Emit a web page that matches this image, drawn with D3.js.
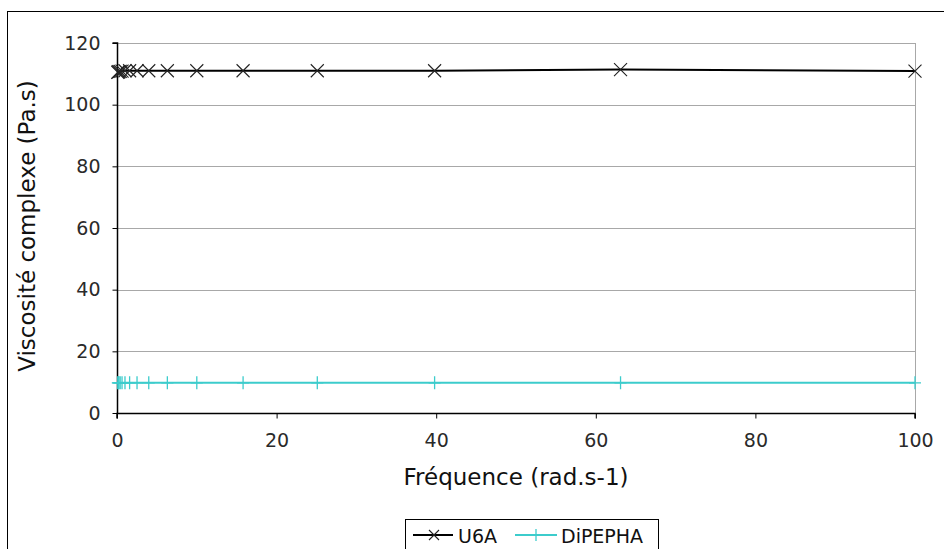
<!DOCTYPE html>
<html>
<head>
<meta charset="utf-8">
<script src="https://cdn.jsdelivr.net/npm/d3@7"></script>
<style>
html,body{margin:0;padding:0;background:#fff;}
svg{display:block;font-family:"DejaVu Sans",Verdana,sans-serif;}
</style>
</head>
<body>
<svg id="chart" width="944" height="549"></svg>
<script>
// Data
const frequencies = [0.1, 0.158, 0.251, 0.398, 0.631, 1, 1.58, 2.51, 3.98, 6.31, 10, 15.8, 25.1, 39.8, 63.1, 100];
const u6a = [110.5, 110.6, 110.7, 110.8, 110.9, 111, 111, 111, 111, 111, 111, 111, 111, 111, 111.4, 110.9];
const dipepha = [9.8, 9.8, 9.8, 9.8, 9.8, 9.8, 9.8, 9.8, 9.8, 9.8, 9.8, 9.8, 9.8, 9.8, 9.8, 9.8];
const xTicks = [0, 20, 40, 60, 80, 100];
const yTicks = [0, 20, 40, 60, 80, 100, 120];
const seriesNames = ["U6A", "DiPEPHA"];
const xTitle = "Fréquence (rad.s-1)";
const yTitle = "Viscosité complexe (Pa.s)";

const svg = d3.select("#chart");
const L = 117, R = 915, T = 43, B = 413;
const x = d3.scaleLinear().domain([0, 100]).range([L, R]);
const y = d3.scaleLinear().domain([0, 120]).range([B, T]);

// outer chart border
svg.append("rect").attr("x", 7.5).attr("y", 11.5).attr("width", 1000).attr("height", 1000)
  .attr("fill", "none").attr("stroke", "#000").attr("stroke-width", 1);

// gridlines
svg.append("g").selectAll("line").data(yTicks.filter(d => d > 0)).join("line")
  .attr("x1", L).attr("x2", R)
  .attr("y1", d => Math.round(y(d)) + 0.5).attr("y2", d => Math.round(y(d)) + 0.5)
  .attr("stroke", "#a8a8a8").attr("stroke-width", 1);
// right border of plot area
svg.append("line").attr("x1", R + 0.5).attr("x2", R + 0.5).attr("y1", T).attr("y2", B)
  .attr("stroke", "#a8a8a8");

// axes
const yAxis = d3.axisLeft(y).tickValues(yTicks).tickSize(5).tickPadding(12).tickFormat(d3.format("d"));
const xAxis = d3.axisBottom(x).tickValues(xTicks).tickSize(5).tickPadding(15).tickFormat(d3.format("d"));
const gy = svg.append("g").attr("transform", `translate(${L + 0.5},0)`).call(yAxis);
const gx = svg.append("g").attr("transform", `translate(0,${B + 0.5})`).call(xAxis);
[gx, gy].forEach(g => {
  g.select(".domain").attr("stroke", "#000").attr("stroke-width", 1.5);
  g.selectAll(".tick line").attr("stroke", "#000");
  g.selectAll("text").attr("font-size", 19).attr("font-family", "DejaVu Sans").attr("fill", "#2a2a2a");
});
gy.select(".domain").attr("d", `M-5,${T}H0V${B}`);
gx.select(".domain").attr("d", `M${L},0V5V0H${R}V5`);

// series
const pts1 = frequencies.map((f, i) => [f, u6a[i]]);
const pts2 = frequencies.map((f, i) => [f, dipepha[i]]);
const line = d3.line().x(d => x(d[0])).y(d => y(d[1]));

svg.append("path").datum(pts2).attr("d", line).attr("fill", "none")
  .attr("stroke", "#3ccccc").attr("stroke-width", 2);
svg.append("g").selectAll("path").data(pts2).join("path")
  .attr("d", d => `M${x(d[0]) - 6},${y(d[1])}H${x(d[0]) + 6}M${x(d[0])},${y(d[1]) - 6.5}V${y(d[1]) + 6.5}`)
  .attr("stroke", "#3ccccc").attr("stroke-width", 1.3).attr("fill", "none");

svg.append("path").datum(pts1).attr("d", line).attr("fill", "none")
  .attr("stroke", "#000").attr("stroke-width", 2);
svg.append("g").selectAll("path").data(pts1).join("path")
  .attr("d", d => `M${x(d[0]) - 6.5},${y(d[1]) - 6.5}L${x(d[0]) + 6.5},${y(d[1]) + 6.5}M${x(d[0]) - 6.5},${y(d[1]) + 6.5}L${x(d[0]) + 6.5},${y(d[1]) - 6.5}`)
  .attr("stroke", "#222").attr("stroke-width", 1.1).attr("fill", "none");

// axis titles
svg.append("text").attr("x", (L + R) / 2).attr("y", 485).attr("text-anchor", "middle")
  .attr("font-size", 23).attr("fill", "#111").text(xTitle);
svg.append("text").attr("transform", `translate(35,${(T + B) / 2 - 2}) rotate(-90)`)
  .attr("text-anchor", "middle").attr("font-size", 23).attr("fill", "#111").text(yTitle);

// legend
const lg = svg.append("g");
lg.append("rect").attr("x", 405.5).attr("y", 519.5).attr("width", 253).attr("height", 60)
  .attr("fill", "#fff").attr("stroke", "#000");
const ly = 535;
lg.append("line").attr("x1", 413).attr("x2", 453).attr("y1", ly).attr("y2", ly).attr("stroke", "#000").attr("stroke-width", 2);
lg.append("path").attr("d", `M${434 - 5},${ly - 5}L${434 + 5},${ly + 5}M${434 - 5},${ly + 5}L${434 + 5},${ly - 5}`)
  .attr("stroke", "#222").attr("stroke-width", 1.1);
lg.append("text").attr("x", 458).attr("y", 543).attr("font-size", 19).attr("fill", "#111").text(seriesNames[0]);
lg.append("line").attr("x1", 515).attr("x2", 557).attr("y1", ly).attr("y2", ly).attr("stroke", "#3ccccc").attr("stroke-width", 2);
lg.append("path").attr("d", `M536,${ly - 6}V${ly + 6}`).attr("stroke", "#3ccccc").attr("stroke-width", 1.3);
lg.append("text").attr("x", 561).attr("y", 543).attr("font-size", 19).attr("fill", "#111").text(seriesNames[1]);
</script>
</body>
</html>
